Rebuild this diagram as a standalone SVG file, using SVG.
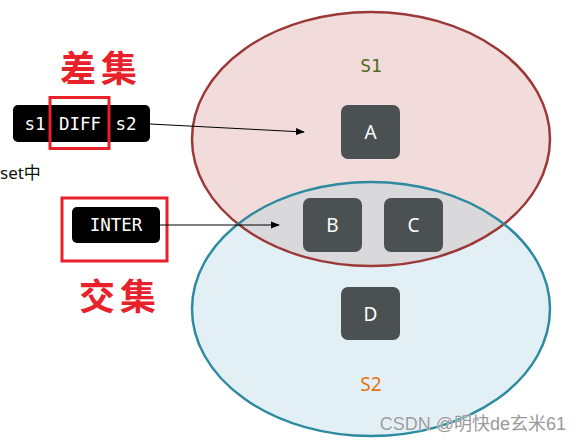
<svg xmlns="http://www.w3.org/2000/svg" width="580" height="442" viewBox="0 0 580 442">
<style>
.node rect{fill:#4b5152}
.node text{fill:#fff;font-family:"Noto Sans","Open Sans",sans-serif;font-size:19px;text-anchor:middle}
.cmd rect.bg{fill:#000}
.cmd text{fill:#fff;font-family:"DejaVu Sans Mono","Liberation Mono",monospace;font-size:17.5px;text-anchor:middle}
.hl{fill:none;stroke:#e8212b;stroke-width:3}
.cn{font-family:"Noto Sans CJK SC","Noto Sans CJK JP",sans-serif;font-size:36px;fill:#e8212b;text-anchor:middle;font-weight:bold;letter-spacing:5px}
.conn line{stroke:#000;stroke-width:1}
</style>
<defs>
<marker id="ah" viewBox="0 0 10 10" refX="9" refY="5" markerWidth="9" markerHeight="9" markerUnits="userSpaceOnUse" orient="auto"><path d="M0,1 L10,5 L0,9 z" fill="#000"/></marker>
<clipPath id="c1"><ellipse cx="371" cy="139" rx="179" ry="127"/></clipPath>
</defs>
<g id="S1set">
<ellipse cx="371" cy="139" rx="179" ry="127" fill="#f2dbdb"/>
</g>
<g id="S2set">
<ellipse cx="371" cy="309" rx="179" ry="127" fill="#e2f0f6"/>
<ellipse cx="371" cy="309" rx="179" ry="127" fill="#d9d8da" clip-path="url(#c1)"/>
<ellipse cx="371" cy="139" rx="179" ry="127" fill="none" stroke="#9b3838" stroke-width="2.5"/>
<ellipse cx="371" cy="309" rx="179" ry="127" fill="none" stroke="#2e8aa1" stroke-width="2.5"/>
<path d="M203,212 A179,127 0 0 0 539,212" fill="none" stroke="#9b5a62" stroke-width="2.5" clip-path="url(#c1)"/>
<text x="371" y="72" font-family="DejaVu Sans Mono,monospace" font-size="18" fill="#4e6a1c" text-anchor="middle">S1</text>
<text x="371" y="391" font-family="Noto Sans,sans-serif" font-size="19" fill="#e8700c" text-anchor="middle">S2</text>
</g>
<g id="A" class="node"><rect x="341" y="105" width="59" height="54" rx="7"/><text x="370.5" y="139">A</text></g>
<g id="B" class="node"><rect x="303" y="198" width="59" height="54" rx="7"/><text x="332.5" y="232">B</text></g>
<g id="C" class="node"><rect x="384" y="198" width="59" height="54" rx="7"/><text x="413.5" y="232">C</text></g>
<g id="D" class="node"><rect x="341" y="287" width="59" height="53" rx="7"/><text x="370.5" y="321">D</text></g>
<g id="diff" class="cmd">
<rect class="bg" x="13" y="105" width="137" height="37" rx="5"/>
<text x="35" y="130">s1</text><text x="80" y="130">DIFF</text><text x="126" y="130">s2</text>
<rect class="hl" x="50" y="97.5" width="59" height="51"/>
</g>
<text class="cn" x="101" y="82">差集</text>
<text x="0" y="179" font-family="Noto Sans,Noto Sans CJK SC,sans-serif" font-size="17" fill="#111">set中</text>
<g id="inter" class="cmd">
<rect class="bg" x="72" y="207" width="88" height="36" rx="5"/>
<text x="116" y="231">INTER</text>
<rect class="hl" x="62" y="198" width="105" height="63"/>
</g>
<text class="cn" x="120" y="310">交集</text>
<g id="connectors" class="conn">
<line x1="150" y1="124" x2="304" y2="132" marker-end="url(#ah)"/>
<line x1="160" y1="225" x2="279" y2="225" marker-end="url(#ah)"/>
</g>
<text x="566" y="430" font-family="Liberation Sans,Noto Sans CJK SC,sans-serif" font-size="18" fill="#9a9a9a" stroke="#fff" stroke-width="0.6" paint-order="stroke" text-anchor="end">CSDN @明快de玄米61</text>
</svg>
